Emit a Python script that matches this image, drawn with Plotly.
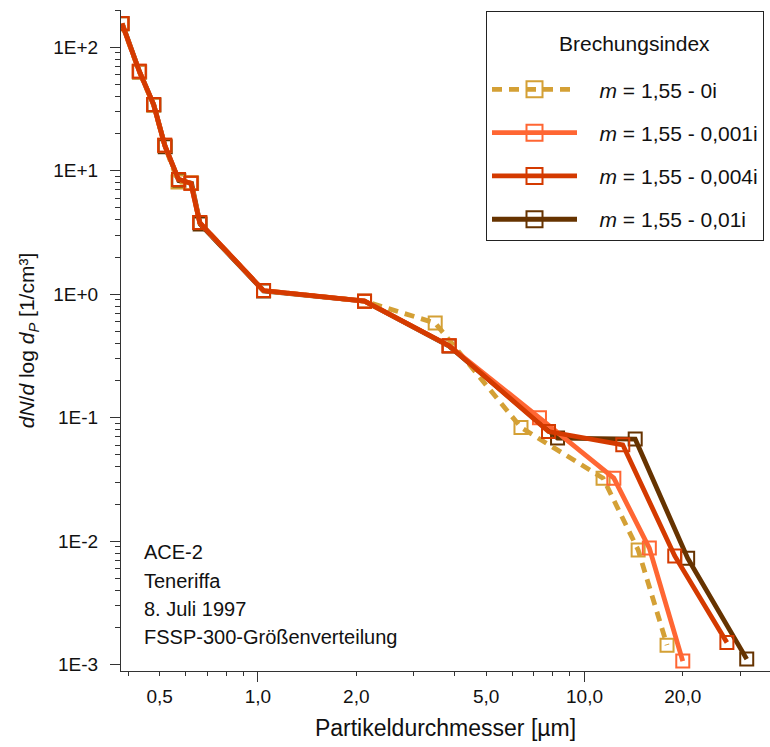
import plotly.graph_objects as go
import math

# ---- data (particle diameter in µm, dN/dlogdP in 1/cm³) ----
names = ["<i>m</i> = 1,55 - 0i", "<i>m</i> = 1,55 - 0,001i",
         "<i>m</i> = 1,55 - 0,004i", "<i>m</i> = 1,55 - 0,01i"]
colors = ["#D4A035", "#FF6633", "#D43A00", "#663300"]
dashes = ["10px,7px", "solid", "solid", "solid"]

x_m0 = [0.383, 0.433, 0.479, 0.518, 0.569, 0.624, 0.663, 1.040, 2.12, 3.49, 6.39, 11.4, 14.6, 17.9]
y_m0 = [155.0, 63.0, 34.0, 16.0, 8.1, 8.0, 3.8, 1.07, 0.878, 0.584, 0.0833, 0.0324, 0.0085, 0.00144]

x_m1 = [0.383, 0.433, 0.479, 0.518, 0.571, 0.623, 0.663, 1.040, 2.12, 3.85, 7.28, 12.3, 15.8, 20.0]
y_m1 = [155.6, 63.9, 34.3, 16.1, 8.5, 7.9, 3.8, 1.07, 0.878, 0.383, 0.0998, 0.0324, 0.0088, 0.00107]

x_m4 = [0.383, 0.433, 0.479, 0.518, 0.571, 0.623, 0.663, 1.040, 2.12, 3.85, 7.76, 13.1, 18.9, 27.3]
y_m4 = [155.6, 63.9, 34.3, 16.1, 8.5, 7.9, 3.8, 1.07, 0.878, 0.383, 0.0773, 0.0603, 0.0076, 0.00151]

x_m10 = [0.384, 0.434, 0.480, 0.520, 0.572, 0.626, 0.665, 1.040, 2.12, 3.85, 8.27, 14.3, 20.7, 31.4]
y_m10 = [155.0, 63.0, 34.0, 15.6, 8.3, 7.9, 3.7, 1.06, 0.878, 0.380, 0.0684, 0.0671, 0.00728, 0.00111]

xs = [x_m0, x_m1, x_m4, x_m10]
ys = [y_m0, y_m1, y_m4, y_m10]

x_tickvals = [0.5, 1, 2, 5, 10, 20]
x_ticktext = ["0,5", "1,0", "2,0", "5,0", "10,0", "20,0"]
y_tickvals = [1e-3, 1e-2, 1e-1, 1e0, 1e1, 1e2]
y_ticktext = ["1E-3", "1E-2", "1E-1", "1E+0", "1E+1", "1E+2"]

info_lines = ["ACE-2", "Teneriffa", "8. Juli 1997", "FSSP-300-Größenverteilung"]

FONT = "Liberation Sans, Arial, sans-serif"
TXT = "#111"

fig = go.Figure()
draw_order = [3, 0, 1, 2]
for i in draw_order:
    fig.add_trace(go.Scatter(
        x=xs[i], y=ys[i], mode="lines+markers", name=names[i],
        showlegend=False,
        line=dict(color=colors[i], width=4.8, dash=dashes[i]),
        marker=dict(symbol="square-open", size=13, color=colors[i],
                    line=dict(width=2, color=colors[i])),
    ))

# legend entries (larger symbols, same styles)
for i in range(4):
    fig.add_trace(go.Scatter(
        x=[None], y=[None], mode="lines+markers",
        name="&nbsp;&nbsp;&nbsp;" + names[i],
        legendrank=i + 1, legendgroup=f"g{i}",
        line=dict(color=colors[i], width=4.8, dash=dashes[i]),
        marker=dict(symbol="square-open", size=16, color=colors[i],
                    line=dict(width=2, color=colors[i])),
    ))

# helper axis for the longer decade ticks on x
fig.add_trace(go.Scatter(x=[1], y=[1], xaxis="x2", mode="markers",
                         marker=dict(opacity=0), showlegend=False, hoverinfo="skip"))

xr = [math.log10(0.3806), math.log10(37.0)]
yr = [-3.051, math.log10(200)]

x_minor = [v * 10 ** d for d in (-1, 0, 1) for v in range(2, 10)]
x_minor = [v for v in x_minor if v not in x_tickvals and 0.38 < v < 37]
y_minor = [v * 10 ** d for d in range(-3, 3) for v in range(2, 10)]

L, T, H = 121, 10, 661
W = 649


def px_x(p):
    return (p - L) / W


def px_y(p):
    return (T + H - p) / H


annotations = [dict(
    xref="paper", yref="paper", x=px_x(634), y=px_y(43),
    xanchor="center", yanchor="middle", showarrow=False,
    text="Brechungsindex", font=dict(family=FONT, size=21, color=TXT),
)]
for line, py in zip(info_lines, [552, 580.5, 609, 637]):
    annotations.append(dict(
        xref="paper", yref="paper", x=px_x(142), y=px_y(py),
        xanchor="left", yanchor="middle", showarrow=False,
        text=line, font=dict(family=FONT, size=20, color=TXT),
    ))

fig.update_layout(
    width=770, height=747,
    margin=dict(l=L, r=0, t=T, b=747 - T - H),
    paper_bgcolor="white", plot_bgcolor="white",
    font=dict(family=FONT, size=19, color=TXT),
    showlegend=True,
    legend=dict(
        x=px_x(486), xanchor="left", y=px_y(11), yanchor="top",
        bordercolor="#222", borderwidth=1, bgcolor="white",
        font=dict(family=FONT, size=21, color=TXT),
        title=dict(text="&nbsp;<br>&nbsp;", side="top",
                   font=dict(family=FONT, size=22, color=TXT)),
        itemwidth=85, tracegroupgap=13, itemsizing="trace",
    ),
    xaxis=dict(
        type="log", range=xr, showgrid=False, zeroline=False,
        showline=True, linecolor="#333", linewidth=1,
        tickvals=x_tickvals, ticktext=x_ticktext,
        ticks="outside", ticklen=4, tickcolor="#333",
        tickfont=dict(family=FONT, size=19, color=TXT),
        ticklabelstandoff=4,
        minor=dict(tickvals=x_minor, ticks="outside", ticklen=4, tickcolor="#333"),
        title=dict(text="Partikeldurchmesser [µm]",
                   font=dict(family=FONT, size=23, color=TXT), standoff=14),
    ),
    xaxis2=dict(
        type="log", range=xr, overlaying="x", anchor="y", side="bottom",
        showgrid=False, zeroline=False, showline=False,
        tickvals=[1, 10], ticks="outside", ticklen=10, tickcolor="#333",
        showticklabels=False,
    ),
    yaxis=dict(
        type="log", range=yr, showgrid=False, zeroline=False,
        showline=True, linecolor="#333", linewidth=1,
        tickvals=y_tickvals, ticktext=y_ticktext,
        ticks="outside", ticklen=10, tickcolor="#333",
        tickfont=dict(family=FONT, size=19, color=TXT),
        ticklabelstandoff=8,
        minor=dict(tickvals=y_minor, ticks="outside", ticklen=5, tickcolor="#333"),
        title=dict(text="<i>dN</i>/<i>d</i> log <i>d</i><sub><i>P</i></sub> [1/cm³]",
                   font=dict(family=FONT, size=21, color=TXT), standoff=12),
    ),
    annotations=annotations,
)

fig.write_html("out.html")
